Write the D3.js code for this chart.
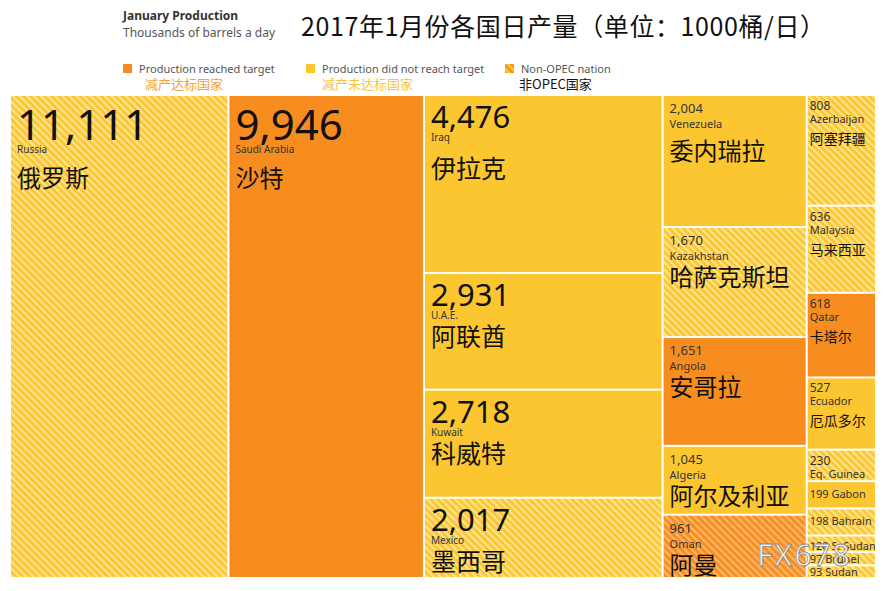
<!DOCTYPE html>
<html>
<head>
<meta charset="utf-8">
<script src="https://cdn.jsdelivr.net/npm/d3@7"></script>
<style>
  body { margin: 0; background: #fff; }
  svg { display: block; font-family: "Noto Sans", "Open Sans", sans-serif; }
  .cn { font-family: "Noto Sans CJK SC", sans-serif; }
</style>
</head>
<body>
<div id="chart"></div>
<script>
// chart data
var countries = ["Russia", "Saudi Arabia", "Iraq", "U.A.E.", "Kuwait", "Mexico",
  "Venezuela", "Kazakhstan", "Angola", "Algeria", "Oman",
  "Azerbaijan", "Malaysia", "Qatar", "Ecuador", "Eq. Guinea", "Gabon", "Bahrain", "S. Sudan", "Brunei", "Sudan"];
var cnNames = ["俄罗斯", "沙特", "伊拉克", "阿联酋", "科威特", "墨西哥",
  "委内瑞拉", "哈萨克斯坦", "安哥拉", "阿尔及利亚", "阿曼",
  "阿塞拜疆", "马来西亚", "卡塔尔", "厄瓜多尔", "", "", "", "", "", ""];
var production = [11111, 9946, 4476, 2931, 2718, 2017,
  2004, 1670, 1651, 1045, 961,
  808, 636, 618, 527, 230, 199, 198, 120, 97, 93];
// 1 = production reached target, 0 = did not
var reached = [0, 1, 0, 0, 0, 0,
  0, 0, 1, 0, 1,
  0, 0, 1, 0, 0, 0, 0, 0, 0, 0];
var nonOpec = [1, 0, 0, 0, 0, 1,
  0, 1, 0, 0, 1,
  1, 1, 0, 0, 1, 0, 1, 1, 1, 1];
// which column of the treemap each country sits in
var column = [0, 1, 2, 2, 2, 2,
  3, 3, 3, 3, 3,
  4, 4, 4, 4, 4, 4, 4, 4, 4, 4];

var svgWidth = 888;
var svgHeight = 591;
var margin = { top: 96, left: 11, right: 13, bottom: 14 };
var width = svgWidth - margin.left - margin.right;
var height = svgHeight - margin.top - margin.bottom;

var orange = "#F78D1F", yellow = "#FCC630";
var orangeLight = "#FBB567", yellowLight = "#FDE38E";

var svg = d3.select("#chart").append("svg")
  .attr("width", svgWidth)
  .attr("height", svgHeight);

// hatch patterns for non-OPEC nations
var defs = svg.append("defs");
function hatch(id, base, stripe) {
  var p = defs.append("pattern")
    .attr("id", id)
    .attr("patternUnits", "userSpaceOnUse")
    .attr("width", 5).attr("height", 5)
    .attr("patternTransform", "rotate(-45)");
  p.append("rect").attr("width", 5).attr("height", 5).attr("fill", base);
  p.append("rect").attr("width", 2.2).attr("height", 5).attr("fill", stripe);
}
hatch("hatchY", yellow, yellowLight);
hatch("hatchO", orange, orangeLight);
hatch("hatchL", yellow, orange);

// header
var head = svg.append("g");
head.append("text").attr("x", 123).attr("y", 20)
  .style("font-size", "12px").style("font-weight", "bold").attr("fill", "#333")
  .text("January Production");
head.append("text").attr("x", 123).attr("y", 37)
  .style("font-size", "12px").attr("fill", "#555")
  .text("Thousands of barrels a day");
head.append("text").attr("class", "cn").attr("x", 301).attr("y", 36)
  .style("font-size", "25px").style("letter-spacing", "0.6px").attr("fill", "#111")
  .text("2017年1月份各国日产量（单位：1000桶/日）");

// legend
var legendItems = [
  { x: 123, fill: orange, en: "Production reached target", cn: "减产达标国家", cnx: 145, cnColor: "#F2A33A" },
  { x: 306, fill: yellow, en: "Production did not reach target", cn: "减产未达标国家", cnx: 322, cnColor: "#F7C440" },
  { x: 505, fill: "url(#hatchL)", en: "Non-OPEC nation", cn: "非OPEC国家", cnx: 519, cnColor: "#111" }
];
var legend = svg.append("g").selectAll("g").data(legendItems).enter().append("g");
legend.append("rect")
  .attr("x", d => d.x).attr("y", 64).attr("width", 9).attr("height", 9)
  .attr("fill", d => d.fill);
legend.append("text")
  .attr("x", d => d.x + 16).attr("y", 73)
  .style("font-size", "11px").attr("fill", "#555")
  .text(d => d.en);
legend.append("text").attr("class", "cn")
  .attr("x", d => d.cnx).attr("y", 89)
  .style("font-size", "13px").attr("fill", d => d.cnColor)
  .text(d => d.cn);

// build hierarchy: root -> columns -> countries
var leaves = countries.map(function(c, i) {
  return { name: c, cn: cnNames[i], value: production[i], reached: reached[i], nonOpec: nonOpec[i], col: column[i] };
});
var groups = d3.groups(leaves, d => d.col).map(g => ({ children: g[1] }));
var root = d3.hierarchy({ children: groups })
  .sum(d => d.children ? 0 : d.value);

d3.treemap()
  .tile(d3.treemapSliceDice)
  .size([width, height])
  .paddingInner(2)
  .round(false)(root);

var chartGroup = svg.append("g")
  .attr("transform", `translate(${margin.left}, ${margin.top})`);

var cells = chartGroup.selectAll("g.cell")
  .data(root.leaves())
  .enter().append("g")
  .attr("class", "cell")
  .attr("transform", d => `translate(${d.x0}, ${d.y0})`);

cells.append("clipPath")
  .attr("id", (d, i) => "clip" + i)
  .append("rect")
  .attr("width", d => d.x1 - d.x0)
  .attr("height", d => d.y1 - d.y0);

cells.append("rect")
  .attr("width", d => d.x1 - d.x0)
  .attr("height", d => d.y1 - d.y0)
  .attr("fill", function(d) {
    var c = d.data;
    if (c.nonOpec) return c.reached ? "url(#hatchO)" : "url(#hatchY)";
    return c.reached ? orange : yellow;
  });

var fmt = d3.format(",");

// labels, sized by the cell they sit in
cells.each(function(d, i) {
  var g = d3.select(this).append("g").attr("clip-path", `url(#clip${i})`);
  var w = d.x1 - d.x0, h = d.y1 - d.y0, c = d.data;
  if (h > 300) {
    g.append("text").attr("x", 6).attr("y", 44).style("font-size", "42px").attr("fill", "#111").text(fmt(c.value));
    g.append("text").attr("x", 6).attr("y", 57).style("font-size", "10px").attr("fill", "#333").text(c.name);
    g.append("text").attr("class", "cn").attr("x", 6).attr("y", 91).style("font-size", "24px").attr("fill", "#111").text(c.cn);
  } else if (w > 180) {
    g.append("text").attr("x", 6).attr("y", 32).style("font-size", "31px").attr("fill", "#111").text(fmt(c.value));
    g.append("text").attr("x", 6).attr("y", 45).style("font-size", "10px").attr("fill", "#333").text(c.name);
    g.append("text").attr("class", "cn").attr("x", 6).attr("y", h > 150 ? 82 : 72).style("font-size", "25px").attr("fill", "#111").text(c.cn);
  } else if (w > 100) {
    g.append("text").attr("x", 6).attr("y", 17).style("font-size", "13px").attr("fill", "#333").text(fmt(c.value));
    g.append("text").attr("x", 6).attr("y", 32).style("font-size", "11px").attr("fill", "#333").text(c.name);
    g.append("text").attr("class", "cn").attr("x", 6).attr("y", h > 120 ? 64 : 58).style("font-size", "24px").attr("fill", "#111").text(c.cn);
  } else if (h >= 27) {
    g.append("text").attr("x", 2).attr("y", 14).style("font-size", "12px").attr("fill", "#333").text(fmt(c.value));
    g.append("text").attr("x", 2).attr("y", 27).style("font-size", "11px").attr("fill", "#333").text(c.name);
    if (c.cn) g.append("text").attr("class", "cn").attr("x", 2).attr("y", 48).style("font-size", "14px").attr("fill", "#111").text(c.cn);
  } else {
    g.append("text").attr("x", 2).attr("y", Math.min(16, h - 1)).style("font-size", "11px").attr("fill", "#333")
      .text(fmt(c.value) + " " + c.name);
  }
});

// watermark
svg.append("text")
  .attr("x", 757).attr("y", 566)
  .style("font-size", "30px").style("letter-spacing", "2px")
  .attr("fill", "#fff").attr("fill-opacity", 0.9)
  .attr("stroke", "#888").attr("stroke-width", 0.8)
  .text("FX678");
</script>
</body>
</html>
